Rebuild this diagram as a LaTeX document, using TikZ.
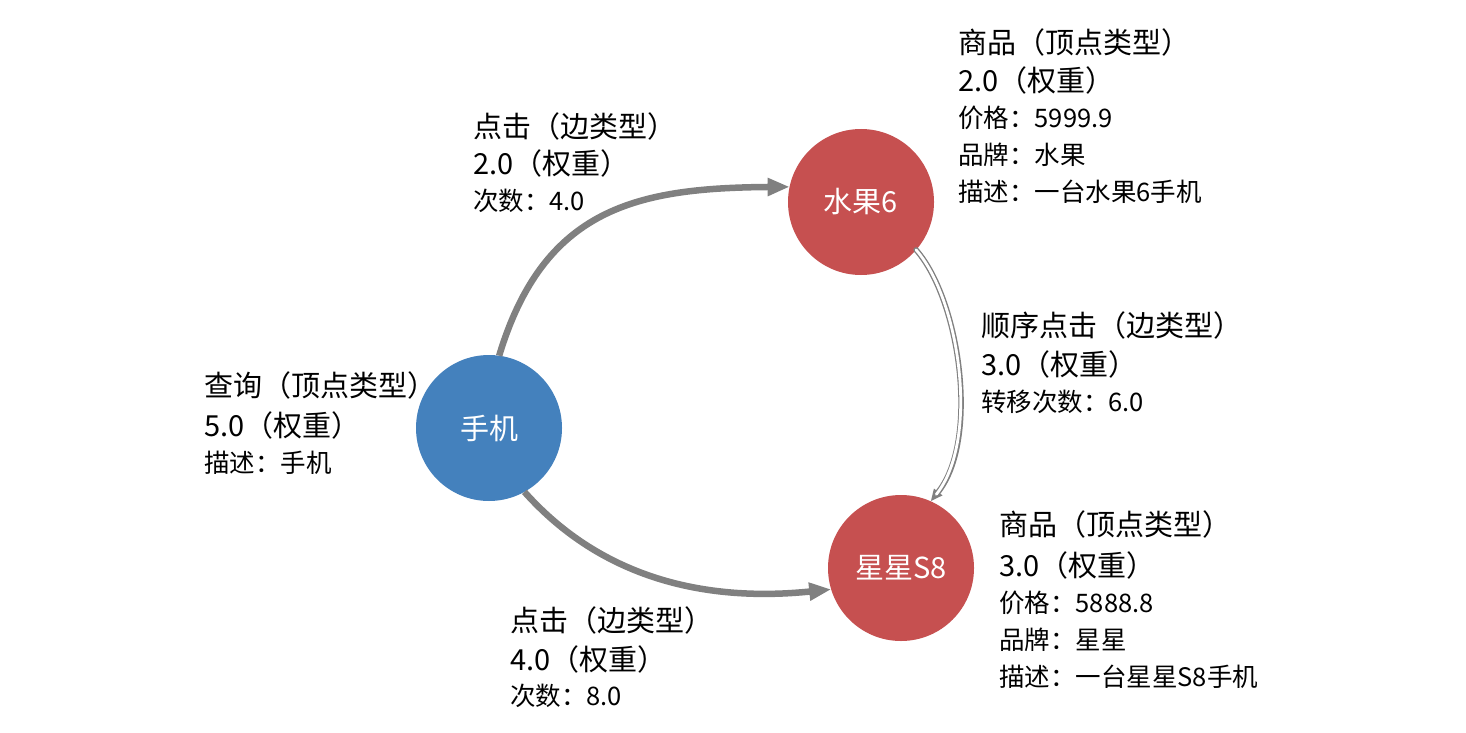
\documentclass[tikz,border=0pt]{standalone}
\usepackage{fontspec}
\setmainfont{Noto Sans CJK SC}
\usetikzlibrary{arrows.meta}
\definecolor{nblue}{HTML}{4481BD}
\definecolor{nred}{HTML}{C65050}
\definecolor{egray}{HTML}{808080}
\tikzset{
  vert/.style={circle, minimum size=146pt, inner sep=0pt, outer sep=0pt, text=white, font=\fontsize{29}{33}\selectfont},
  big/.style={anchor=west, inner sep=0pt, font=\fontsize{29}{33}\selectfont},
  small/.style={anchor=west, inner sep=0pt, font=\fontsize{25.5}{29}\selectfont},
  thickedge/.style={draw=egray, line width=6.5pt, -{Triangle[length=22pt,width=17pt]}},
}
\begin{document}
\begin{tikzpicture}[x=1pt,y=-1pt]
\useasboundingbox[fill=white] (0,0) rectangle (1466,733);
\node[vert, fill=nblue] (sj) at (489,428) {手机};
\node[vert, fill=nred] (s6) at (861,202) {水果6};
\node[vert, fill=nred] (s8) at (901,568) {星星S8};

\draw[thickedge] (sj.82) .. controls (544,207) and (638,188) .. (s6.168);
\draw[thickedge] (sj.-61) .. controls (603,580) and (708,602) .. (s8.-163);
\draw[draw=egray, line width=5.5pt, line cap=round, -{Triangle[length=12pt,width=10pt]}] (s6.-41) .. controls (960,300) and (980,440) .. (s8.66);
\draw[draw=white, line width=2.8pt, line cap=round, shorten >=9pt] (s6.-41) .. controls (960,300) and (980,440) .. (s8.66);

\node[big] (a1) at (958,42) {商品（顶点类型）};
\node[big] (a2) at (958,80) {2.0（权重）};
\node[small] (a3) at (958,118) {价格：5999.9};
\node[small] (a4) at (958,155) {品牌：水果};
\node[small] (a5) at (958,192) {描述：一台水果6手机};

\node[big] (b1) at (999,524) {商品（顶点类型）};
\node[big] (b2) at (999,565) {3.0（权重）};
\node[small] (b3) at (999,603) {价格：5888.8};
\node[small] (b4) at (999,640) {品牌：星星};
\node[small] (b5) at (999,677) {描述：一台星星S8手机};

\node[big] (c1) at (473,126) {点击（边类型）};
\node[big] (c2) at (473,163) {2.0（权重）};
\node[small] (c3) at (473,201) {次数：4.0};

\node[big] (d1) at (981,325) {顺序点击（边类型）};
\node[big] (d2) at (981,364) {3.0（权重）};
\node[small] (d3) at (981,402) {转移次数：6.0};

\node[big] (e1) at (204,385) {查询（顶点类型）};
\node[big] (e2) at (204,425) {5.0（权重）};
\node[small] (e3) at (204,463) {描述：手机};

\node[big] (f1) at (510,620) {点击（边类型）};
\node[big] (f2) at (510,659) {4.0（权重）};
\node[small] (f3) at (510,696) {次数：8.0};
\end{tikzpicture}
\end{document}
